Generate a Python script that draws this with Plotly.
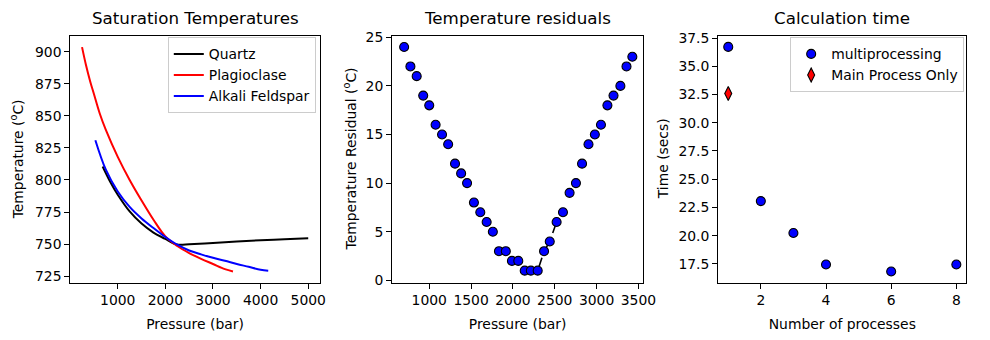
import plotly.graph_objects as go

# ---------------- data ----------------
# Panel 1: saturation temperatures
qtz_p = [683, 850, 1000, 1250, 1500, 1750, 2000, 2200, 2300, 2500, 3000, 3500, 4000, 4500, 5000]
qtz_t = [810.5, 798, 788.5, 775.5, 766, 759, 754, 750, 749.5, 749.8, 750.8, 752, 753, 753.8, 754.5]

plag_p = [250, 330, 420, 500, 620, 750, 1000, 1250, 1500, 1750, 2000, 2250, 2500, 2750, 3000, 3250, 3420]
plag_t = [903.5, 890, 877, 867, 852, 839, 818, 800, 784, 769, 756, 748.5, 743, 738.5, 734.5, 730.5, 728.7]

afs_p = [530, 750, 1000, 1250, 1500, 1750, 2000, 2250, 2500, 2750, 3000, 3250, 3500, 3750, 4000, 4160]
afs_t = [831, 808, 791, 779, 770, 762.5, 755.5, 749.5, 745, 742, 739.3, 737, 734.5, 732.3, 730, 729.3]

# Panel 2: temperature residuals
res_p = [700, 775, 850, 928, 1000, 1076, 1153, 1226, 1308, 1381, 1452, 1534, 1610, 1686, 1760, 1833,
         1915, 1988, 2064, 2141, 2214, 2296, 2372, 2440, 2522, 2598, 2677, 2753, 2826, 2903, 2979,
         3052, 3129, 3202, 3284, 3357, 3427]
res_t = [24, 22, 21, 19, 18, 16, 15, 14, 12, 11, 10, 8, 7, 6, 5, 3,
         3, 2, 2, 1, 1, 1, 3, 4, 6, 7, 9, 10, 12, 14, 15,
         16, 18, 19, 20, 22, 23]
dash_start, dash_end = 15, 25

# Panel 3: calculation time
n_proc = [1, 2, 3, 4, 6, 8]
t_multi = [36.72, 23.06, 20.23, 17.44, 16.82, 17.44]
n_main = [1]
t_main = [32.6]

# tick labels
x1_ticks = [1000, 2000, 3000, 4000, 5000]
y1_ticks = [725, 750, 775, 800, 825, 850, 875, 900]
x2_ticks = [1000, 1500, 2000, 2500, 3000, 3500]
y2_ticks = [0, 5, 10, 15, 20, 25]
x3_ticks = [2, 4, 6, 8]
y3_ticks = [17.5, 20.0, 22.5, 25.0, 27.5, 30.0, 32.5, 35.0, 37.5]

# ---------------- figure ----------------
W, H = 990, 340
FONT = "DejaVu Sans"
FS = 13.9

def px_x(a, b):
    return [a / W, b / W]

ydom = [1 - 286.7 / H, 1 - 30.7 / H]

fig = go.Figure()

LW = 2.0
fig.add_trace(go.Scatter(x=qtz_p, y=qtz_t, mode="lines", name="Quartz", line_shape="spline",
                         line=dict(color="black", width=LW), xaxis="x", yaxis="y", legend="legend"))
fig.add_trace(go.Scatter(x=plag_p, y=plag_t, mode="lines", name="Plagioclase", line_shape="spline",
                         line=dict(color="red", width=LW), xaxis="x", yaxis="y", legend="legend"))
fig.add_trace(go.Scatter(x=afs_p, y=afs_t, mode="lines", name="Alkali Feldspar", line_shape="spline",
                         line=dict(color="blue", width=LW), xaxis="x", yaxis="y", legend="legend"))

fig.add_trace(go.Scatter(x=res_p[dash_start:dash_end], y=res_t[dash_start:dash_end], mode="lines",
                         line=dict(color="black", width=1.6, dash="dash"),
                         xaxis="x2", yaxis="y2", showlegend=False))
fig.add_trace(go.Scatter(x=res_p, y=res_t, mode="markers",
                         marker=dict(color="blue", size=9, line=dict(color="black", width=1.1)),
                         xaxis="x2", yaxis="y2", showlegend=False))

fig.add_trace(go.Scatter(x=n_proc, y=t_multi, mode="markers", name="multiprocessing",
                         marker=dict(color="blue", size=9, line=dict(color="black", width=1.1)),
                         xaxis="x3", yaxis="y3", legend="legend2"))
fig.add_trace(go.Scatter(x=n_main, y=t_main, mode="markers", name="Main Process Only",
                         marker=dict(color="red", size=10, symbol="diamond-tall",
                                     line=dict(color="black", width=1.1)),
                         xaxis="x3", yaxis="y3", legend="legend2"))

axis_common = dict(showline=True, linecolor="black", linewidth=1.1, mirror=True,
                   ticks="outside", ticklen=5, tickwidth=1.1, tickcolor="black",
                   showgrid=False, zeroline=False,
                   tickfont=dict(family=FONT, size=FS, color="black"))

def title(t, s):
    return dict(text=t, standoff=s, font=dict(family=FONT, size=FS, color="black"))

fig.update_layout(
    width=W, height=H,
    margin=dict(l=0, r=0, t=0, b=0),
    paper_bgcolor="white", plot_bgcolor="white",
    font=dict(family=FONT, size=FS, color="black"),
    xaxis=dict(domain=px_x(71.3, 324), range=[5, 5242], tickvals=x1_ticks,
               title=title("Pressure (bar)", 11), anchor="y", **axis_common),
    yaxis=dict(domain=ydom, range=[720, 912.5], tickvals=y1_ticks, anchor="x", **axis_common),
    xaxis2=dict(domain=px_x(397.3, 651.7), range=[556, 3556], tickvals=x2_ticks,
                title=title("Pressure (bar)", 11), anchor="y2", **axis_common),
    yaxis2=dict(domain=ydom, range=[-0.23, 25.17], tickvals=y2_ticks, anchor="x2", **axis_common),
    xaxis3=dict(domain=px_x(727.7, 979.3), range=[0.69, 8.31], tickvals=x3_ticks,
                title=title("Number of processes", 11), anchor="y3", **axis_common),
    yaxis3=dict(domain=ydom, range=[15.84, 37.72], tickvals=y3_ticks, tickformat=".1f",
                anchor="x3", **axis_common),
    legend=dict(x=320 / W, y=1 - 32.5 / H, xanchor="right", yanchor="top",
                bgcolor="rgba(255,255,255,0.8)", bordercolor="#cccccc", borderwidth=1,
                font=dict(family=FONT, size=FS, color="black")),
    legend2=dict(x=977 / W, y=1 - 32.5 / H, xanchor="right", yanchor="top",
                 bgcolor="rgba(255,255,255,0.8)", bordercolor="#cccccc", borderwidth=1,
                 font=dict(family=FONT, size=FS, color="black")),
)

titles = [("Saturation Temperatures", (71.3 + 324) / 2),
          ("Temperature residuals", (397.3 + 651.7) / 2),
          ("Calculation time", (727.7 + 979.3) / 2)]
for txt, cx in titles:
    fig.add_annotation(text=txt, x=cx / W, y=1 - 12 / H, xref="paper", yref="paper",
                       xanchor="center", yanchor="middle", showarrow=False,
                       font=dict(family=FONT, size=16.7, color="black"))

ycenter = 1 - ((30.7 + 286.7) / 2) / H
ytitles = [("Temperature (<sup>o</sup>C)", 17.5),
           ("Temperature Residual (<sup>o</sup>C)", 355),
           ("Time (secs)", 672)]
for txt, cx in ytitles:
    fig.add_annotation(text=txt, x=cx / W, y=ycenter, xref="paper", yref="paper",
                       xanchor="center", yanchor="middle", showarrow=False, textangle=-90,
                       font=dict(family=FONT, size=FS, color="black"))

fig.write_html("out.html")
